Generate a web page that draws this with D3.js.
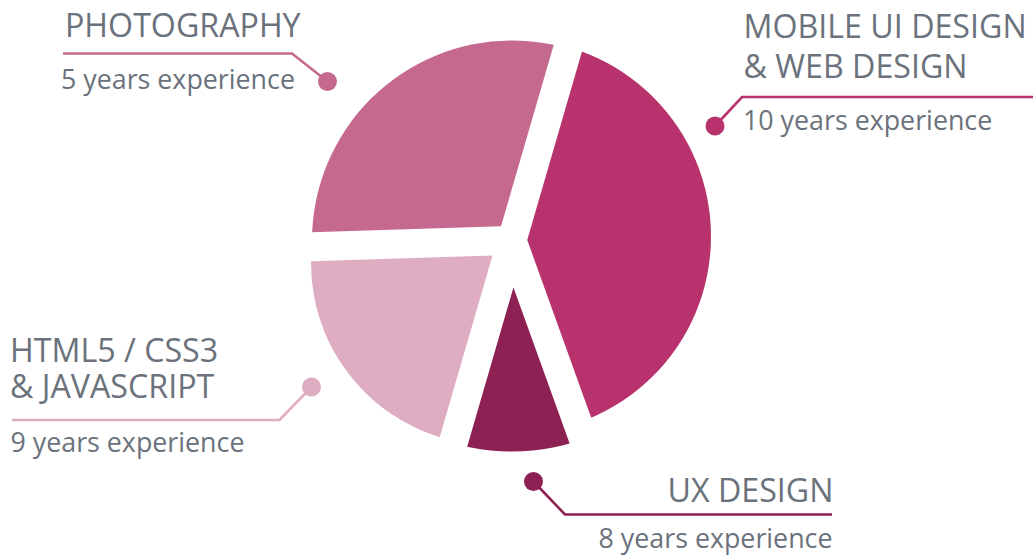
<!DOCTYPE html>
<html>
<head>
<meta charset="utf-8">
<script src="https://cdn.jsdelivr.net/npm/d3@7/dist/d3.min.js"></script>
<style>
  html, body { margin: 0; padding: 0; background: #ffffff; }
  svg { display: block; }
  text { font-family: "Open Sans", "Noto Sans", sans-serif; fill: #6b727c; }
</style>
</head>
<body>
<svg id="chart" width="1033" height="558"></svg>
<script>
// ---- data ----
const categories = ["MOBILE UI DESIGN & WEB DESIGN", "UX DESIGN", "HTML5 / CSS3 & JAVASCRIPT", "PHOTOGRAPHY"];
const titleLines = [["MOBILE UI DESIGN", "& WEB DESIGN"], ["UX DESIGN"], ["HTML5 / CSS3", "& JAVASCRIPT"], ["PHOTOGRAPHY"]];
const years = [10, 8, 9, 5];
const shares = [40, 10, 20, 30];
const subLabel = y => y + " years experience";

// ---- styles / layout ----
const colors = ["#b8336d", "#8e2153", "#dfadc2", "#c56a8e"];
const center = { x: 512, y: 240.5 };
const gap = 29;
const startDeg = 16.2;
// arc centre offsets (from pie centre) and radii per slice
const sliceArc = [
  { ax: 2, ay: -4, r: 197 },
  { ax: 0, ay: 0, r: 211 },
  { ax: -19, ay: 22.5, r: 182 },
  { ax: 0, ay: 0, r: 200 }
];
// label layout: dot, elbow, end of leader; text anchor/position
const labelLayout = [
  { dot: [715, 126], elbow: [742, 97], end: [1033, 97], anchor: "start", tx: 743.5, sx: 743, titleY: [37.7, 77.7], subY: 130 },
  { dot: [533.5, 481.5], elbow: [565, 514.5], end: [832, 514.5], anchor: "end", tx: 833.5, sx: 832.5, titleY: [501.7], subY: 548.3 },
  { dot: [311.5, 387], elbow: [279.5, 420], end: [12, 420], anchor: "start", tx: 10, sx: 10.5, titleY: [361.7, 397.7], subY: 451.7 },
  { dot: [327.5, 81.5], elbow: [292, 53.5], end: [63, 53.5], anchor: "start", tx: 65, sx: 61, titleY: [37.3], subY: 89.3 }
];
const titleSize = 32.2;
const subSize = 26.8;

const svg = d3.select("#chart");
const defs = svg.append("defs");

const start = startDeg * Math.PI / 180;
const pie = d3.pie().sort(null).value(d => d).startAngle(start).endAngle(start + 2 * Math.PI);
const arcs = pie(shares);
const wedge = d3.arc().innerRadius(0).outerRadius(700);

const slices = svg.append("g").attr("class", "slices");
arcs.forEach((d, i) => {
  const sa = sliceArc[i];
  defs.append("clipPath").attr("id", "clip" + i)
    .append("circle")
    .attr("cx", center.x + sa.ax)
    .attr("cy", center.y + sa.ay)
    .attr("r", sa.r);
  const mid = (d.startAngle + d.endAngle) / 2;
  const half = (d.endAngle - d.startAngle) / 2;
  const off = (gap / 2) / Math.sin(half);
  const vx = center.x + off * Math.sin(mid);
  const vy = center.y - off * Math.cos(mid);
  slices.append("g")
    .attr("clip-path", "url(#clip" + i + ")")
    .append("path")
    .attr("transform", `translate(${vx},${vy})`)
    .attr("d", wedge(d))
    .attr("fill", colors[i]);
});

// ---- labels ----
const labels = svg.append("g").attr("class", "labels");
const line = d3.line();
categories.forEach((c, i) => {
  const L = labelLayout[i];
  const g = labels.append("g");
  g.append("path")
    .attr("d", line([L.dot, L.elbow, L.end]))
    .attr("fill", "none")
    .attr("stroke", colors[i])
    .attr("stroke-width", 2.6);
  g.append("circle")
    .attr("cx", L.dot[0]).attr("cy", L.dot[1]).attr("r", 9.5)
    .attr("fill", colors[i]);
  titleLines[i].forEach((t, j) => {
    g.append("text")
      .attr("x", L.tx).attr("y", L.titleY[j])
      .attr("text-anchor", L.anchor)
      .style("font-size", titleSize + "px")
      .text(t);
  });
  g.append("text")
    .attr("x", L.sx).attr("y", L.subY)
    .attr("text-anchor", L.anchor)
    .style("font-size", subSize + "px")
    .text(subLabel(years[i]));
});
</script>
</body>
</html>
